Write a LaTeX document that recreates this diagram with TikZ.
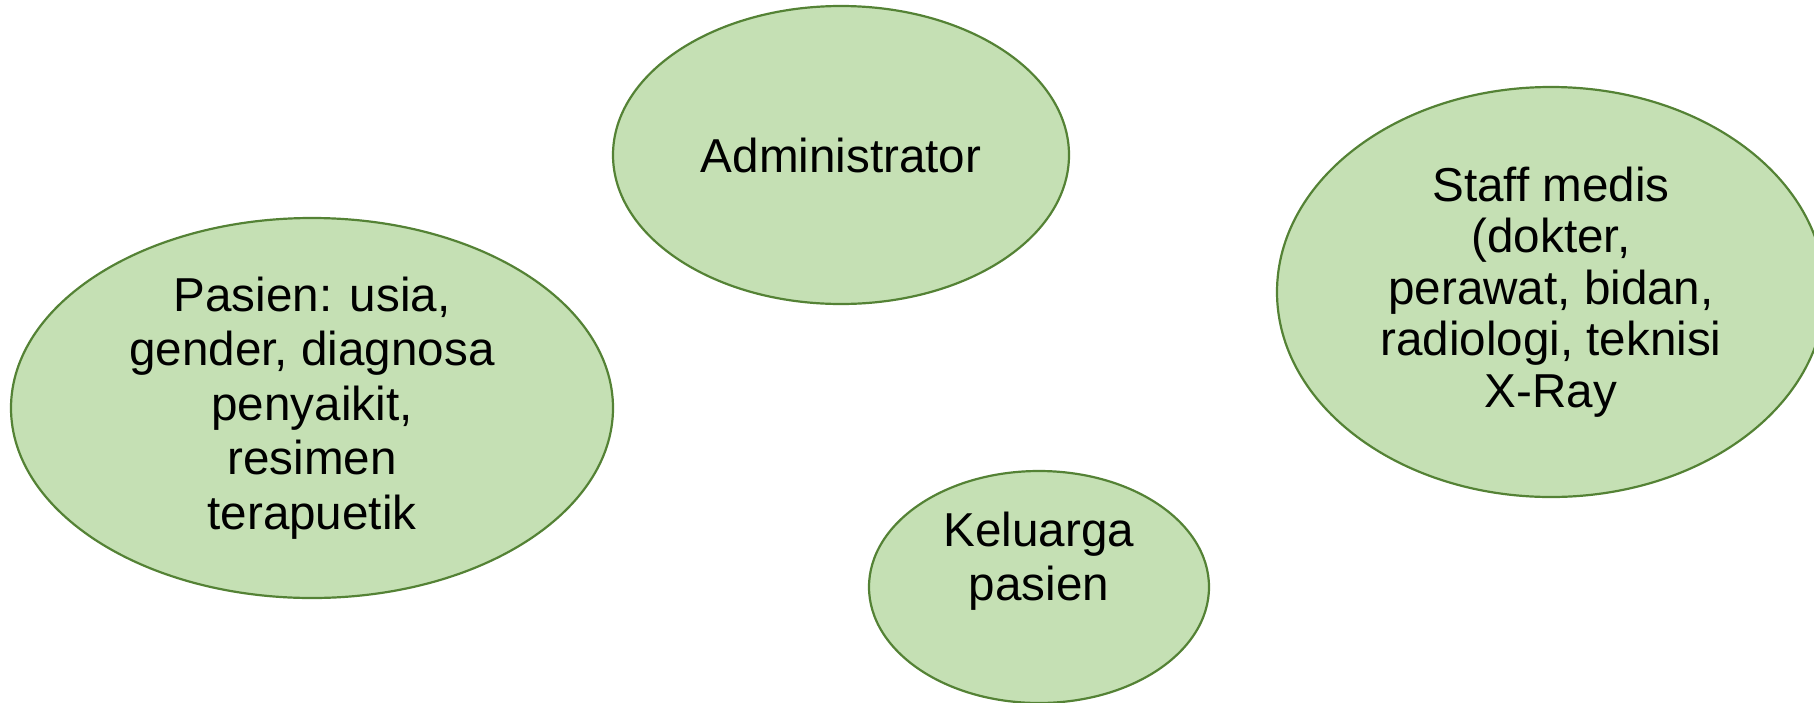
\documentclass[tikz,border=0pt]{standalone}
\usepackage{fontspec}
\setmainfont{Liberation Sans}
\usetikzlibrary{shapes.geometric, positioning}

\definecolor{actorfill}{HTML}{C5E0B4}
\definecolor{actorline}{HTML}{548235}

\begin{document}
\begin{tikzpicture}[
    x=0.5pt, y=-0.5pt,
    actor/.style={ellipse, draw=actorline, fill=actorfill, line width=1.1pt, inner sep=0pt, align=center, font=\fontsize{23.8}{26.8}\selectfont},
    actor text/.style={align=center, inner sep=0pt, font=\fontsize{23.8}{26.8}\selectfont}
]
    \useasboundingbox (0,0) rectangle (1814,702);

    % Stakeholder ellipses
    \node (admin) [actor, minimum width=228pt, minimum height=149pt] at (841,155) {Administrator};
    \node (pasien) [actor, minimum width=301pt, minimum height=190pt, font=\fontsize{23.8}{27.2}\selectfont] at (312,408) {Pasien: usia,\\gender, diagnosa\\penyaikit,\\resimen\\terapuetik};
    \node (staff) [actor, minimum width=274pt, minimum height=205pt, font=\fontsize{23.8}{25.8}\selectfont] at (1551,292) {Staff medis\\(dokter,\\perawat, bidan,\\radiologi, teknisi\\X-Ray};
    \node (keluarga) [actor, minimum width=170pt, minimum height=116pt] at (1039,587) {};
    \node (keluargatext) [actor text] at ([yshift=13pt]keluarga.center) {Keluarga\\pasien};
\end{tikzpicture}
\end{document}
